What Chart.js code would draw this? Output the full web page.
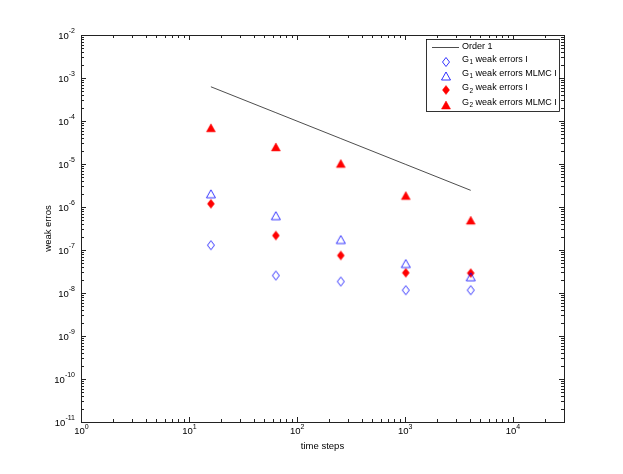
<!DOCTYPE html>
<html>
<head>
<meta charset="utf-8">
<script src="https://cdn.jsdelivr.net/npm/chart.js@4"></script>
<style>
  html, body { margin: 0; padding: 0; background: #fff; }
</style>
</head>
<body>
<canvas id="chart" width="623" height="474"></canvas>
<script>
// values
const steps = [16, 64, 256, 1024, 4096];
const order1 = [6.25e-4, 1.5625e-4, 3.90625e-5, 9.765625e-6, 2.44140625e-6];
const g1Weak = [1.29e-7, 2.55e-8, 1.85e-8, 1.16e-8, 1.16e-8];
const g1Mlmc = [2.03e-6, 6.3e-7, 1.75e-7, 4.85e-8, 2.38e-8];
const g2Weak = [1.19e-6, 2.17e-7, 7.45e-8, 2.95e-8, 2.9e-8];
const g2Mlmc = [6.95e-5, 2.5e-5, 1.03e-5, 1.85e-6, 4.93e-7];

// tick labels are 10 raised to these exponents
const xTickExps = [0, 1, 2, 3, 4];
const xTickLabels = ['0', '1', '2', '3', '4'];
const yTickExps = [-11, -10, -9, -8, -7, -6, -5, -4, -3, -2];
const yTickLabels = ['-11', '-10', '-9', '-8', '-7', '-6', '-5', '-4', '-3', '-2'];

const FONT = '"Liberation Sans", Arial, sans-serif';
const BASE_FONT = '9.5px ' + FONT;
const SMALL_FONT = '7px ' + FONT;
const LEGEND_FONT = '9px ' + FONT;
const LEGEND_SMALL = '6.5px ' + FONT;

function marker(shape, color, filled) {
  const c = document.createElement('canvas');
  c.width = 12; c.height = 12;
  const g = c.getContext('2d');
  g.beginPath();
  if (shape === 'diamond') {
    g.moveTo(6, 1.5); g.lineTo(9.5, 6); g.lineTo(6, 10.5); g.lineTo(2.5, 6);
  } else {
    g.moveTo(6, 2); g.lineTo(10.5, 10); g.lineTo(1.5, 10);
  }
  g.closePath();
  if (filled) { g.fillStyle = color; g.fill(); }
  g.strokeStyle = color;
  g.lineWidth = filled ? 0.5 : 0.8;
  g.stroke();
  return c;
}

const pts = (ys) => steps.map((s, i) => ({x: s, y: ys[i]}));

// log ticks 1..9 per decade, major on powers of ten
function logTicks(scale) {
  const ticks = [];
  const lo = Math.floor(Math.log10(scale.min));
  const hi = Math.ceil(Math.log10(scale.max));
  for (let e = lo; e <= hi; e++) {
    for (let m = 1; m <= 9; m++) {
      const v = Number((m * Math.pow(10, e)).toPrecision(12));
      if (v >= scale.min * 0.999999 && v <= scale.max * 1.000001) ticks.push({value: v, major: m === 1});
    }
  }
  scale.ticks = ticks;
}

// "10" with a raised exponent
function drawPower(ctx, exp, x, y, align) {
  ctx.font = BASE_FONT;
  const wb = ctx.measureText('10').width;
  ctx.font = SMALL_FONT;
  const we = ctx.measureText(exp).width;
  const left = align === 'right' ? x - wb - we : x - (wb + we) / 2;
  ctx.font = BASE_FONT;
  ctx.fillText('10', left, y);
  ctx.font = SMALL_FONT;
  ctx.fillText(exp, left + wb, y - 4.5);
}

// text with subscript digits drawn small and lowered
function drawRich(ctx, text, x, y) {
  const subs = '₀₁₂₃₄₅₆₇₈₉';
  let cx = x;
  for (const ch of text) {
    const k = subs.indexOf(ch);
    if (k >= 0) {
      ctx.font = LEGEND_SMALL;
      ctx.fillText(String(k), cx + 0.5, y + 3);
      cx += ctx.measureText(String(k)).width + 0.5;
    } else {
      ctx.font = LEGEND_FONT;
      ctx.fillText(ch, cx, y);
      cx += ctx.measureText(ch).width;
    }
  }
}

// matlab style box with inward ticks on all four sides, plus tick labels
const framePlugin = {
  id: 'frame',
  afterDraw(chart) {
    const {ctx, chartArea: a, scales} = chart;
    ctx.save();
    ctx.strokeStyle = '#222';
    ctx.lineWidth = 1;
    ctx.beginPath();
    scales.x.ticks.forEach(t => {
      const px = Math.round(scales.x.getPixelForValue(t.value)) + 0.5;
      const len = t.major ? 5 : 3;
      ctx.moveTo(px, a.bottom); ctx.lineTo(px, a.bottom - len);
      ctx.moveTo(px, a.top); ctx.lineTo(px, a.top + len);
    });
    scales.y.ticks.forEach(t => {
      const py = Math.round(scales.y.getPixelForValue(t.value)) + 0.5;
      const len = t.major ? 5 : 3;
      ctx.moveTo(a.left, py); ctx.lineTo(a.left + len, py);
      ctx.moveTo(a.right, py); ctx.lineTo(a.right - len, py);
    });
    ctx.stroke();
    ctx.strokeRect(a.left + 0.5, a.top + 0.5, a.right - a.left, a.bottom - a.top);

    ctx.fillStyle = '#000';
    ctx.textAlign = 'left';
    ctx.textBaseline = 'middle';
    xTickExps.forEach((e, i) => {
      const px = scales.x.getPixelForValue(Math.pow(10, e));
      drawPower(ctx, xTickLabels[i], px + 0.5, a.bottom + 9.5, 'center');
    });
    yTickExps.forEach((e, i) => {
      const py = scales.y.getPixelForValue(Math.pow(10, e));
      drawPower(ctx, yTickLabels[i], a.left - 6, py + 1, 'right');
    });
    ctx.restore();
  }
};

const legendPlugin = {
  id: 'boxLegend',
  afterDraw(chart) {
    const {ctx, chartArea: a} = chart;
    const x0 = Math.round(a.right - 138), y0 = Math.round(a.top + 4);
    const w = 133, h = 72;
    ctx.save();
    ctx.fillStyle = '#fff';
    ctx.fillRect(x0, y0, w, h);
    ctx.strokeStyle = '#000';
    ctx.lineWidth = 0.8;
    ctx.strokeRect(x0 + 0.5, y0 + 0.5, w, h);
    ctx.textBaseline = 'middle';
    ctx.textAlign = 'left';
    chart.data.datasets.forEach((ds, i) => {
      const y = y0 + 8.5 + i * 14.3;
      if (ds.showLine) {
        ctx.beginPath();
        ctx.strokeStyle = ds.borderColor;
        ctx.lineWidth = ds.borderWidth;
        ctx.moveTo(x0 + 6, y); ctx.lineTo(x0 + 33, y);
        ctx.stroke();
      } else {
        ctx.drawImage(ds.pointStyle, x0 + 20 - 6, Math.round(y) - 6);
      }
      ctx.fillStyle = '#000';
      drawRich(ctx, ds.label, x0 + 36, y - (ds.showLine ? 0.5 : 2.5));
    });
    ctx.restore();
  }
};

const ctx = document.getElementById('chart').getContext('2d');
new Chart(ctx, {
  type: 'scatter',
  data: {
    datasets: [
      {
        label: 'Order 1',
        data: pts(order1),
        showLine: true,
        borderColor: '#000',
        borderWidth: 0.7,
        pointRadius: 0,
      },
      {
        label: 'G₁ weak errors I',
        data: pts(g1Weak),
        pointStyle: marker('diamond', '#0000ff', false),
        pointRadius: 5,
      },
      {
        label: 'G₁ weak errors MLMC I',
        data: pts(g1Mlmc),
        pointStyle: marker('triangle', '#0000ff', false),
        pointRadius: 5,
      },
      {
        label: 'G₂ weak errors I',
        data: pts(g2Weak),
        pointStyle: marker('diamond', '#ff0000', true),
        pointRadius: 5,
      },
      {
        label: 'G₂ weak errors MLMC I',
        data: pts(g2Mlmc),
        pointStyle: marker('triangle', '#ff0000', true),
        pointRadius: 5,
      },
    ],
  },
  options: {
    responsive: false,
    animation: false,
    layout: {
      padding: {top: 35, right: 59, bottom: 0, left: 0},
    },
    plugins: {
      legend: {display: false},
      tooltip: {enabled: false},
    },
    scales: {
      x: {
        type: 'logarithmic',
        min: 1,
        max: 3e4,
        grid: {display: false},
        border: {display: false},
        afterBuildTicks: logTicks,
        afterFit: (scale) => { scale.height = 52; },
        ticks: {display: false, autoSkip: false},
        title: {
          display: true,
          text: 'time steps',
          color: '#000',
          font: {family: FONT, size: 9.5},
          padding: {top: 0, bottom: 22},
        },
      },
      y: {
        type: 'logarithmic',
        min: 1e-11,
        max: 1e-2,
        grid: {display: false},
        border: {display: false},
        afterBuildTicks: logTicks,
        afterFit: (scale) => { scale.width = 81; },
        ticks: {display: false, autoSkip: false},
        title: {
          display: true,
          text: 'weak erros',
          color: '#000',
          font: {family: FONT, size: 9.5},
          padding: {top: 43, bottom: 0},
        },
      },
    },
  },
  plugins: [framePlugin, legendPlugin],
});
</script>
</body>
</html>
